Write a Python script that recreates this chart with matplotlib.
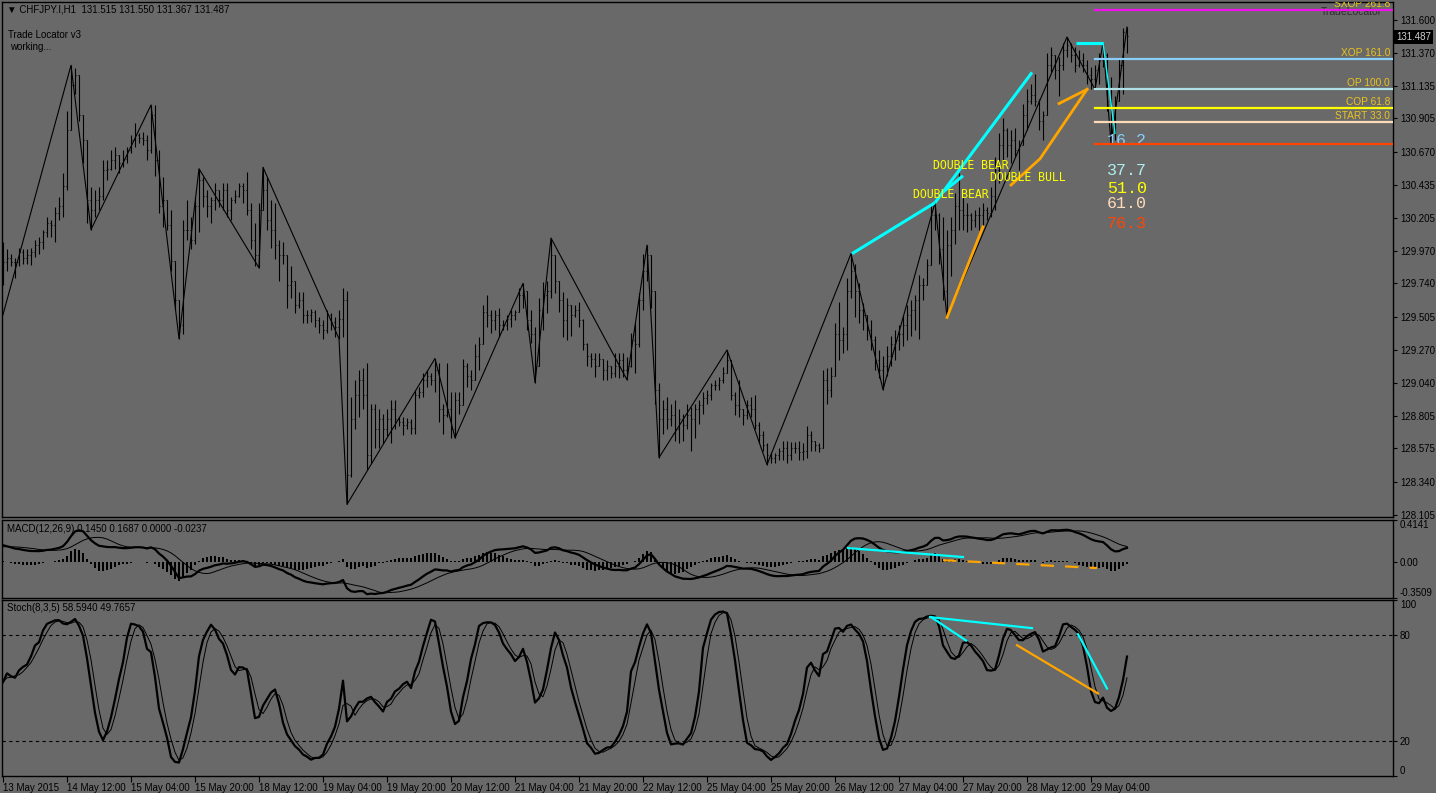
import matplotlib
matplotlib.use("Agg")
import matplotlib.pyplot as plt
from matplotlib.collections import LineCollection
import numpy as np
import pandas as pd

W, H = 1436, 793
BG = "#696969"
FONT = "Liberation Sans"
MONO = "DejaVu Sans Mono"

# ---- price data (CHFJPY H1) ----
OPEN0 = 129.95
high = [
    130.03, 129.98, 129.95, 129.92, 129.99, 129.98, 129.98, 129.99, 130.05, 130.07,
    130.12, 130.21, 130.19, 130.28, 130.35, 130.52, 130.96, 131.28, 131.26, 131.20,
    130.84, 130.68, 130.42, 130.40, 130.42, 130.61, 130.61, 130.68, 130.70, 130.63,
    130.68, 130.70, 130.79, 130.87, 130.80, 130.81, 130.79, 131.00, 131.00, 130.68,
    130.49, 130.33, 130.26, 129.90, 129.62, 130.19, 130.33, 130.21, 130.35, 130.55,
    130.49, 130.40, 130.35, 130.45, 130.40, 130.45, 130.45, 130.35, 130.40, 130.45,
    130.45, 130.53, 130.31, 130.17, 130.31, 130.56, 130.49, 130.33, 130.31, 130.05,
    130.03, 129.88, 129.86, 129.69, 129.68, 129.68, 129.55, 129.56, 129.55, 129.50,
    129.48, 129.55, 129.53, 129.50, 129.55, 129.71, 129.69, 128.94, 129.06, 129.13,
    129.14, 129.18, 128.89, 128.89, 128.85, 128.82, 128.85, 128.92, 128.92, 128.80,
    128.80, 128.79, 128.78, 128.99, 129.01, 129.11, 129.13, 129.11, 129.21, 129.18,
    128.89, 129.18, 128.97, 128.97, 128.97, 129.21, 129.18, 129.13, 129.31, 129.36,
    129.59, 129.66, 129.55, 129.55, 129.57, 129.48, 129.52, 129.55, 129.55, 129.71,
    129.74, 129.67, 129.55, 129.43, 129.64, 129.75, 129.76, 130.06, 129.90, 129.74,
    129.68, 129.64, 129.59, 129.59, 129.61, 129.49, 129.32, 129.25, 129.25, 129.25,
    129.21, 129.20, 129.15, 129.25, 129.25, 129.25, 129.22, 129.39, 129.46, 129.67,
    129.95, 130.01, 129.86, 129.67, 129.04, 128.92, 128.94, 128.89, 128.92, 128.85,
    128.82, 128.89, 128.87, 128.89, 128.92, 128.97, 128.99, 129.04, 129.06, 129.08,
    129.15, 129.27, 129.20, 128.97, 129.06, 128.85, 128.92, 128.94, 128.95, 128.76,
    128.70, 128.61, 128.55, 128.54, 128.58, 128.63, 128.63, 128.62, 128.62, 128.63,
    128.61, 128.73, 128.70, 128.63, 128.61, 129.13, 129.14, 129.15, 129.46, 129.61,
    129.43, 129.78, 129.95, 129.88, 129.74, 129.60, 129.50, 129.48, 129.37, 129.27,
    129.23, 129.30, 129.37, 129.41, 129.45, 129.52, 129.59, 129.62, 129.66, 129.80,
    129.78, 129.91, 130.31, 130.31, 130.24, 130.21, 130.12, 130.21, 130.38, 130.52,
    130.35, 130.31, 130.24, 130.26, 130.28, 130.31, 130.28, 130.42, 130.63, 130.80,
    130.91, 130.84, 130.82, 130.84, 130.75, 131.01, 131.11, 131.15, 131.22, 131.04,
    130.96, 131.37, 131.41, 131.34, 131.34, 131.44, 131.48, 131.44, 131.41, 131.39,
    131.37, 131.32, 131.27, 131.28, 131.37, 131.44, 131.37, 131.20, 131.06, 131.33,
    131.54, 131.550,
]
low = [
    129.73, 129.83, 129.86, 129.78, 129.86, 129.88, 129.88, 129.87, 129.93, 129.95,
    129.98, 130.07, 130.07, 130.03, 130.19, 130.21, 130.40, 130.89, 131.08, 130.89,
    130.59, 130.17, 130.12, 130.21, 130.26, 130.33, 130.47, 130.54, 130.55, 130.52,
    130.56, 130.59, 130.66, 130.70, 130.73, 130.72, 130.61, 130.66, 130.50, 130.24,
    130.14, 130.12, 129.83, 129.55, 129.35, 129.38, 130.05, 129.98, 130.02, 130.10,
    130.28, 130.21, 130.17, 130.26, 130.28, 130.26, 130.21, 130.19, 130.31, 130.35,
    130.31, 130.22, 129.98, 129.86, 129.85, 130.28, 130.12, 129.99, 129.91, 129.76,
    129.88, 129.57, 129.64, 129.53, 129.57, 129.46, 129.46, 129.47, 129.43, 129.39,
    129.35, 129.39, 129.41, 129.36, 129.35, 129.36, 128.18, 128.37, 128.71, 128.80,
    128.85, 128.42, 128.47, 128.58, 128.58, 128.61, 128.66, 128.61, 128.71, 128.73,
    128.67, 128.71, 128.68, 128.68, 128.93, 128.94, 129.01, 129.02, 128.97, 128.76,
    128.68, 128.80, 128.65, 128.65, 128.82, 128.89, 129.01, 128.99, 129.06, 129.13,
    129.32, 129.43, 129.39, 129.41, 129.36, 129.41, 129.41, 129.43, 129.48, 129.54,
    129.57, 129.41, 129.32, 129.04, 129.18, 129.41, 129.53, 129.64, 129.67, 129.54,
    129.36, 129.34, 129.37, 129.50, 129.43, 129.27, 129.16, 129.15, 129.08, 129.18,
    129.06, 129.06, 129.07, 129.08, 129.07, 129.08, 129.06, 129.15, 129.11, 129.29,
    129.55, 129.76, 129.57, 128.89, 128.51, 128.68, 128.71, 128.73, 128.63, 128.61,
    128.63, 128.71, 128.56, 128.65, 128.75, 128.82, 128.89, 128.92, 128.99, 128.99,
    129.04, 129.11, 128.92, 128.81, 128.80, 128.74, 128.78, 128.80, 128.71, 128.61,
    128.56, 128.46, 128.47, 128.47, 128.49, 128.49, 128.47, 128.49, 128.54, 128.49,
    128.49, 128.51, 128.56, 128.56, 128.55, 128.58, 128.89, 128.94, 129.13, 129.20,
    129.25, 129.27, 129.64, 129.50, 129.46, 129.41, 129.34, 129.27, 129.13, 129.07,
    128.99, 129.09, 129.16, 129.20, 129.27, 129.30, 129.34, 129.37, 129.41, 129.35,
    129.62, 129.74, 129.88, 130.12, 129.88, 129.62, 129.50, 129.79, 130.02, 130.12,
    130.12, 130.10, 130.12, 130.14, 130.12, 130.14, 130.19, 130.21, 130.26, 130.45,
    130.59, 130.63, 130.59, 130.63, 130.54, 130.75, 130.82, 131.01, 130.99, 130.82,
    130.75, 130.93, 131.23, 131.18, 131.06, 131.25, 131.34, 131.30, 131.23, 131.27,
    131.23, 131.15, 131.11, 131.11, 131.15, 131.27, 130.96, 130.73, 130.75, 131.06,
    131.08, 131.367,
]
close = [
    129.89, 129.92, 129.89, 129.89, 129.96, 129.92, 129.94, 129.96, 130.01, 130.03,
    130.10, 130.17, 130.15, 130.24, 130.29, 130.43, 130.82, 131.14, 131.21, 130.93,
    130.75, 130.33, 130.26, 130.33, 130.36, 130.54, 130.55, 130.61, 130.65, 130.59,
    130.62, 130.68, 130.75, 130.79, 130.77, 130.75, 130.68, 130.93, 130.61, 130.29,
    130.33, 130.15, 129.90, 129.62, 129.45, 130.12, 130.12, 130.05, 130.29, 130.47,
    130.36, 130.29, 130.33, 130.40, 130.33, 130.40, 130.26, 130.33, 130.36, 130.43,
    130.40, 130.26, 130.05, 129.94, 130.26, 130.40, 130.19, 130.12, 130.01, 129.94,
    129.94, 129.73, 129.76, 129.59, 129.62, 129.52, 129.52, 129.54, 129.48, 129.45,
    129.41, 129.52, 129.47, 129.43, 129.49, 129.62, 128.39, 128.78, 128.95, 129.06,
    128.95, 128.53, 128.85, 128.71, 128.78, 128.71, 128.78, 128.85, 128.78, 128.76,
    128.74, 128.76, 128.72, 128.95, 128.97, 129.06, 129.09, 129.06, 129.13, 128.85,
    128.81, 128.85, 128.71, 128.92, 128.88, 129.16, 129.09, 129.06, 129.23, 129.31,
    129.54, 129.52, 129.48, 129.52, 129.45, 129.45, 129.49, 129.52, 129.54, 129.66,
    129.69, 129.48, 129.38, 129.16, 129.55, 129.66, 129.69, 129.94, 129.76, 129.62,
    129.48, 129.59, 129.52, 129.55, 129.48, 129.31, 129.23, 129.21, 129.16, 129.21,
    129.13, 129.16, 129.11, 129.16, 129.20, 129.13, 129.16, 129.34, 129.31, 129.62,
    129.83, 129.94, 129.69, 128.99, 128.78, 128.85, 128.78, 128.81, 128.71, 128.78,
    128.74, 128.81, 128.78, 128.85, 128.88, 128.93, 128.95, 129.02, 129.02, 129.06,
    129.11, 129.20, 128.95, 128.88, 128.85, 128.81, 128.88, 128.85, 128.74, 128.67,
    128.60, 128.53, 128.51, 128.53, 128.56, 128.58, 128.53, 128.58, 128.58, 128.55,
    128.56, 128.67, 128.63, 128.60, 128.58, 129.06, 128.99, 129.09, 129.38, 129.34,
    129.38, 129.69, 129.83, 129.69, 129.55, 129.52, 129.41, 129.34, 129.20, 129.13,
    129.16, 129.23, 129.31, 129.34, 129.38, 129.45, 129.52, 129.55, 129.62, 129.73,
    129.73, 129.87, 130.22, 130.22, 129.98, 129.69, 130.01, 130.12, 130.29, 130.26,
    130.22, 130.22, 130.19, 130.22, 130.22, 130.26, 130.24, 130.36, 130.54, 130.72,
    130.82, 130.72, 130.75, 130.68, 130.72, 130.93, 131.03, 131.07, 131.03, 130.89,
    130.93, 131.28, 131.35, 131.25, 131.28, 131.39, 131.42, 131.35, 131.28, 131.32,
    131.28, 131.21, 131.18, 131.25, 131.32, 131.35, 131.03, 130.89, 131.03, 131.28,
    131.515, 131.487,
]

# zigzag pivots (bar index, price)
zz_bars = [0, 17, 22, 37, 44, 49, 64, 65, 84, 86, 108, 113, 130, 133, 137, 156,
           161, 164, 181, 191, 212, 220, 233, 236, 266, 273, 275, 277, 281]
zz_prices = [129.52, 131.28, 130.12, 131.00, 129.35, 130.55, 129.85, 130.56, 129.35,
             128.18, 129.21, 128.65, 129.74, 129.04, 130.06, 129.06, 130.01, 128.51,
             129.27, 128.46, 129.95, 128.99, 130.31, 129.50, 131.48, 131.11, 131.44,
             130.73, 131.55]

time_labels = ["13 May 2015", "14 May 12:00", "15 May 04:00", "15 May 20:00",
               "18 May 12:00", "19 May 04:00", "19 May 20:00", "20 May 12:00",
               "21 May 04:00", "21 May 20:00", "22 May 12:00", "25 May 04:00",
               "25 May 20:00", "26 May 12:00", "27 May 04:00", "27 May 20:00",
               "28 May 12:00", "29 May 04:00"]
label_bars = list(range(0, 16 * len(time_labels), 16))

price_ticks = [131.600, 131.370, 131.135, 130.905, 130.670, 130.435, 130.205, 129.970,
               129.740, 129.505, 129.270, 129.040, 128.805, 128.575, 128.340, 128.105]

# Trade Locator levels
fib_names = ["SXOP 261.8", "XOP 161.0", "OP 100.0", "COP 61.8", "START 33.0", ""]
fib_prices = [131.67, 131.325, 131.113, 130.979, 130.88, 130.725]
fib_colors = ["#F010F0", "#87CEFA", "#B0E0E6", "#FFFF00", "#FFDAB9", "#FF4500"]
fib_start_bar = 273

ratio_texts = ["16.2", "37.7", "51.0", "61.0", "76.3"]
ratio_prices = [130.748, 130.54, 130.41, 130.305, 130.16]
ratio_colors = ["#87CEFA", "#AFEEEE", "#FFFF00", "#FFDAB9", "#FF4500"]

# pattern lines on price: (bar, price) lists
cyan_lines = [[(212.25, 129.95), (233, 130.31)],
              [(233, 130.31), (257.25, 131.23)],
              [(234.75, 130.38), (240, 130.50)],
              [(268.25, 131.44), (275, 131.44)]]
cyan_thin = [(275, 131.44), (278, 130.80)]
orange_lines = [[(236, 129.50), (245, 130.14)],
                [(252, 130.435), (259.25, 130.62), (271, 131.11)],
                [(264, 131.01), (271, 131.11)]]
pattern_texts = [("DOUBLE BEAR", 232.5, 130.57), ("DOUBLE BEAR", 227.5, 130.37),
                 ("DOUBLE BULL", 246.75, 130.49)]

# divergence lines on oscillators
macd_cyan = [(211.25, 0.139), (240, 0.051)]
macd_orange = [(235, 0.020), (273.5, -0.057)]
stoch_cyan = [[(231.75, 90.3), (257.25, 84.0)],
              [(232.0, 90.3), (240.75, 77.0)],
              [(268.75, 80.6), (276, 49.7)]]
stoch_orange = [(253.5, 74.3), (273.75, 46.9)]

MACD_START, SIGNAL_START = 0.18, 0.15
K_PERIOD, D_PERIOD, SLOWING = 8, 3, 5

# ---- indicators ----
h = np.array(high)
l = np.array(low)
c = np.array(close)
o = np.concatenate([[OPEN0], c[:-1]])
h = np.maximum(h, np.maximum(o, c))
l = np.minimum(l, np.minimum(o, c))
n = len(c)
x = np.arange(n)


def ema(vals, period, init):
    k = 2.0 / (period + 1)
    out = np.empty(len(vals))
    prev = init
    for i, v in enumerate(vals):
        prev = prev + k * (v - prev)
        out[i] = prev
    return out


ema12 = ema(c, 12, c[0])
ema26 = ema(c, 26, c[0] - MACD_START)
macd = ema12 - ema26
signal = pd.Series(np.concatenate([[SIGNAL_START] * 8, macd])).rolling(9).mean().values[8:]
hist = macd - signal

hs, ls, cs = pd.Series(h), pd.Series(l), pd.Series(c)
ll = ls.rolling(K_PERIOD, min_periods=1).min()
hh = hs.rolling(K_PERIOD, min_periods=1).max()
k_line = 100 * (cs - ll).rolling(SLOWING, min_periods=1).sum() / \
    (hh - ll).rolling(SLOWING, min_periods=1).sum()
d_line = k_line.rolling(D_PERIOD, min_periods=1).mean()

# ---- figure ----
plt.rcParams["font.family"] = [FONT, "DejaVu Sans"]
fig = plt.figure(figsize=(W / 100, H / 100), dpi=100, facecolor=BG)


def px_axes(top, bottom):
    return fig.add_axes([2 / W, 1 - bottom / H, 1391 / W, (bottom - top) / H], facecolor=BG)


ax1 = px_axes(2, 517)
ax2 = px_axes(520, 598)
ax3 = px_axes(600, 776)
XL = (-0.25, 347.5)

for ax in (ax1, ax2, ax3):
    ax.set_xlim(*XL)
    for s in ax.spines.values():
        s.set_color("black")
        s.set_linewidth(1.0)
    ax.yaxis.tick_right()
    ax.tick_params(axis="y", direction="out", length=3, width=0.8, colors="black",
                   labelsize=7, pad=2)
    ax.tick_params(axis="x", bottom=False, labelbottom=False)

# price bars
segs = []
for i in range(n):
    segs.append([(i, l[i]), (i, h[i])])
    segs.append([(i - 0.3, o[i]), (i, o[i])])
    segs.append([(i, c[i]), (i + 0.3, c[i])])
ax1.add_collection(LineCollection(segs, colors="black", linewidths=0.8))
ax1.plot(zz_bars, zz_prices, color="black", lw=0.8)
ax1.set_ylim(128.091, 131.727)
ax1.set_yticks(price_ticks)
ax1.set_yticklabels([f"{p:.3f}" for p in price_ticks])

for seg in cyan_lines:
    xs, ys = zip(*seg)
    ax1.plot(xs, ys, color="#00FFFF", lw=2.2, solid_capstyle="butt")
xs, ys = zip(*cyan_thin)
ax1.plot(xs, ys, color="#00FFFF", lw=1.0)
for seg in orange_lines:
    xs, ys = zip(*seg)
    ax1.plot(xs, ys, color="#FFA500", lw=2.0)
for txt, bx, py in pattern_texts:
    ax1.text(bx, py, txt, color="#FFFF00", fontsize=8.3, family=MONO, ha="left", va="center")

for name, p, col in zip(fib_names, fib_prices, fib_colors):
    ax1.plot([fib_start_bar, XL[1]], [p, p], color=col, lw=1.6, zorder=4)
    if name:
        ax1.text(346.75, p + 0.008, name, color="#ECC41C", fontsize=7.3, ha="right",
                 va="bottom", clip_on=True, zorder=5)

for txt, p, col in zip(ratio_texts, ratio_prices, ratio_colors):
    ax1.text(276, p, txt, color=col, fontsize=12, family="Liberation Mono",
             ha="left", va="center", zorder=3)

ax1.text(337, 131.655, "TradeLocator", color="#2E2E2E", fontsize=7.5, ha="center",
         va="center", zorder=3)

# MACD
ax2.bar(x, hist, width=0.55, color="black", linewidth=0)
ax2.plot(x, macd, color="black", lw=1.6)
ax2.plot(x, signal, color="black", lw=0.7)
xs, ys = zip(*macd_cyan)
ax2.plot(xs, ys, color="#00FFFF", lw=1.6)
xs, ys = zip(*macd_orange)
ax2.plot(xs, ys, color="#FFA500", lw=1.6, dashes=(6, 5))
ax2.set_ylim(-0.3509, 0.4141)
ax2.set_yticks([0.4141, 0.0, -0.3509])
ax2.set_yticklabels(["0.4141", "0.00", "-0.3509"])
lbls = ax2.get_yticklabels()
lbls[0].set_va("top")
lbls[2].set_va("bottom")

# Stochastic
ax3.axhline(80, color="black", lw=0.8, ls=(0, (3, 3)))
ax3.axhline(20, color="black", lw=0.8, ls=(0, (3, 3)))
ax3.plot(x, k_line, color="black", lw=1.6)
ax3.plot(x, d_line, color="black", lw=0.7)
for seg in stoch_cyan:
    xs, ys = zip(*seg)
    ax3.plot(xs, ys, color="#00FFFF", lw=1.6)
xs, ys = zip(*stoch_orange)
ax3.plot(xs, ys, color="#FFA500", lw=1.6)
ax3.set_ylim(0, 100)
ax3.set_yticks([100, 80, 20, 0])
ax3.set_yticklabels(["100", "80", "20", "0"])
lbls = ax3.get_yticklabels()
lbls[0].set_va("top")
lbls[3].set_va("bottom")

ax3.tick_params(axis="x", bottom=True, labelbottom=True, direction="out", length=4,
                width=0.8, colors="black", labelsize=7, pad=1)
ax3.set_xticks(label_bars)
ax3.set_xticklabels(time_labels)
for lb in ax3.get_xticklabels():
    lb.set_ha("left")

# headers
fig.text(7 / W, 1 - 9 / H, "\u25BC CHFJPY.I,H1  131.515 131.550 131.367 131.487",
         fontsize=7, color="black", va="center")
fig.text(8 / W, 1 - 35 / H, "Trade Locator v3", fontsize=7, color="black", va="center")
fig.text(10 / W, 1 - 47 / H, "working...", fontsize=7, color="black", va="center")
fig.text(7 / W, 1 - 529 / H, "MACD(12,26,9) 0.1450 0.1687 0.0000 -0.0237",
         fontsize=7, color="black", va="center")
fig.text(7 / W, 1 - 608 / H, "Stoch(8,3,5) 58.5940 49.7657",
         fontsize=7, color="black", va="center")
fig.text(1396 / W, 1 - 37 / H, f"{close[-1]:.3f}", fontsize=7, color="#D0D0D0",
         va="center", ha="left",
         bbox=dict(boxstyle="square,pad=0.25", fc="black", ec="none"))

fig.savefig("out.png", dpi=100, facecolor=BG)
